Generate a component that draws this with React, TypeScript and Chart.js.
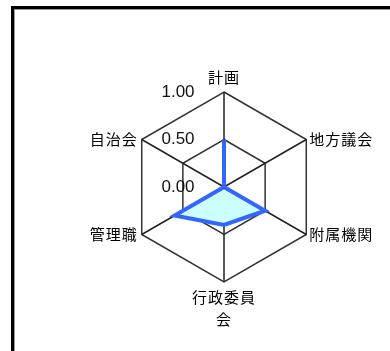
import React, { useEffect, useRef } from "react";
import { Chart, registerables } from "chart.js";

Chart.register(...registerables);

const categories: (string | string[])[] = ["計画", "地方議会", "附属機関", ["行政委員", "会"], "管理職", "自治会"];
const values = [0.5, 0, 0.5, 0.4, 0.6, 0];
const tickValues = [0, 0.5, 1];
const tickLabels = ["0.00", "0.50", "1.00"];

const overlay = {
  id: "overlay",
  beforeDraw(chart: any) {
    const ctx = chart.ctx;
    ctx.save();
    ctx.fillStyle = "#000";
    ctx.fillRect(11, 6, 400, 3);
    ctx.fillRect(11, 6, 3, 400);
    ctx.fillStyle = "#999";
    ctx.fillRect(14, 9, 400, 1);
    ctx.fillRect(14, 9, 1, 400);
    ctx.restore();
  },
  afterDraw(chart: any) {
    const ctx = chart.ctx;
    const s = chart.scales.r;
    ctx.save();
    // tick labels
    ctx.font = "17px 'Liberation Sans'";
    ctx.fillStyle = "#111";
    ctx.textAlign = "center";
    ctx.textBaseline = "middle";
    tickValues.forEach((v, i) => {
      const y = s.yCenter - s.getDistanceFromCenterForValue(v);
      ctx.fillText(tickLabels[i], s.xCenter - 46, y);
    });
    // point labels
    ctx.font = "15px 'Noto Sans CJK JP'";
    (ctx as any).letterSpacing = "1px";
    ctx.fillStyle = "#000";
    categories.forEach((lab, i) => {
      const p = s.getPointPosition(i, s.drawingArea);
      const lines = Array.isArray(lab) ? lab : [lab];
      const dx = p.x - s.xCenter;
      const dy = p.y - s.yCenter;
      if (Math.abs(dx) < 1) {
        ctx.textAlign = "center";
        if (dy < 0) {
          lines.forEach((l, k) => ctx.fillText(l, p.x, p.y - 15 - (lines.length - 1 - k) * 22));
        } else {
          lines.forEach((l, k) => ctx.fillText(l, p.x, p.y + 15 + k * 22));
        }
      } else if (dx > 0) {
        ctx.textAlign = "left";
        lines.forEach((l, k) => ctx.fillText(l, p.x + 3, p.y + k * 22));
      } else {
        ctx.textAlign = "right";
        lines.forEach((l, k) => ctx.fillText(l, p.x - 4, p.y + k * 22));
      }
    });
    ctx.restore();
  },
};

export default function App() {
  const ref = useRef<HTMLCanvasElement>(null);
  useEffect(() => {
    if (!ref.current) return;
    const chart = new Chart(ref.current, {
      type: "radar",
      data: {
        labels: categories as any,
        datasets: [
          {
            data: values,
            borderColor: "rgb(51,102,255)",
            backgroundColor: "#ccffff",
            borderWidth: 4,
            fill: true,
            pointRadius: 0,
            tension: 0,
          },
        ],
      },
      options: {
        responsive: false,
        animation: false,
        layout: { padding: { left: 129, right: 71, top: 92, bottom: 69 } },
        plugins: { legend: { display: false }, tooltip: { enabled: false } },
        scales: {
          r: {
            min: 0,
            max: 1,
            ticks: { stepSize: 0.5, display: false },
            pointLabels: { display: false },
            grid: { color: "#333", lineWidth: 1.5 },
            angleLines: { color: "#222", lineWidth: 1.5 },
          },
        },
      },
      plugins: [overlay],
    });
    return () => chart.destroy();
  }, []);
  return (
    <div style={{ position: "fixed", left: 0, top: 0, width: 390, height: 351, overflow: "hidden", background: "#fff" }}>
      <canvas ref={ref} width={390} height={351} style={{ display: "block" }} />
    </div>
  );
}
